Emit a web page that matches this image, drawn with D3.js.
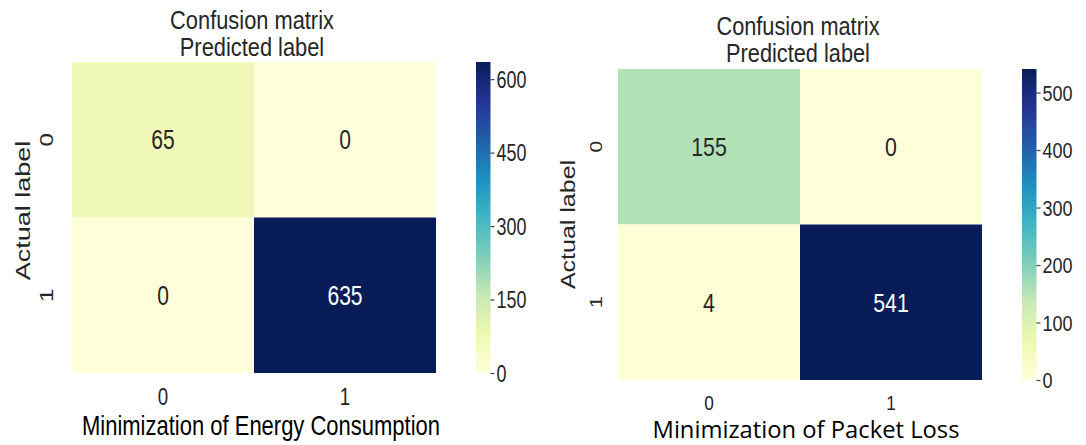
<!DOCTYPE html>
<html>
<head>
<meta charset="utf-8">
<script src="https://cdn.jsdelivr.net/npm/d3@7"></script>
<style>
  html, body { margin: 0; padding: 0; background: #fff; }
  svg { display: block; }
</style>
</head>
<body>
<svg id="chart" width="1086" height="445"></svg>
<script>
// Class labels shared by both confusion matrices
const classLabels = ["0", "1"];

// Confusion matrix counts: rows = actual label, columns = predicted label
const energyMatrix = [[65, 0], [0, 635]];
const packetMatrix = [[155, 0], [4, 541]];

// Colorbar tick values
const energyTicks = [0, 150, 300, 450, 600];
const packetTicks = [0, 100, 200, 300, 400, 500];

// Titles and axis captions
const titleLines = ["Confusion matrix", "Predicted label"];
const yCaption = "Actual label";
const energyCaption = "Minimization of Energy Consumption";
const packetCaption = "Minimization of Packet Loss";

const svg = d3.select("#chart");
const ylgnbu = d3.schemeYlGnBu[9];
const sansFont = "'Liberation Sans', Arial, sans-serif";

// Place a horizontally condensed text label
function label(g, x, y, txt, opt) {
  const sx = opt.sx ?? 0.78;
  const t = g.append("text")
    .attr("transform", `translate(${x},${y}) scale(${sx},1)` + (opt.rotate ? " rotate(-90)" : ""))
    .attr("text-anchor", opt.anchor || "middle")
    .attr("font-family", opt.font || sansFont)
    .attr("font-size", opt.size)
    .attr("fill", opt.fill || "#262626")
    .text(txt);
  if (opt.dy) t.attr("dy", opt.dy);
  return t;
}

function drawPanel(cfg) {
  const g = svg.append("g");
  const matrix = cfg.matrix;
  const vmax = d3.max(matrix.flat());
  const vmin = d3.min(matrix.flat());

  // Piecewise-linear YlGnBu colormap over the data range
  const color = d3.scaleLinear()
    .domain(d3.range(9).map(i => vmin + (vmax - vmin) * i / 8))
    .range(ylgnbu)
    .interpolate(d3.interpolateRgb);

  const x = d3.scaleBand().domain(classLabels).range([cfg.x0, cfg.x1]);
  const y = d3.scaleBand().domain(classLabels).range([cfg.y0, cfg.y1]);

  const cells = [];
  matrix.forEach((row, i) => row.forEach((v, j) => cells.push({ r: classLabels[i], c: classLabels[j], v })));

  g.selectAll("rect.cell").data(cells).enter().append("rect")
    .attr("class", "cell")
    .attr("x", d => x(d.c))
    .attr("y", d => y(d.r))
    .attr("width", x.bandwidth())
    .attr("height", y.bandwidth())
    .attr("fill", d => color(d.v));

  // Cell annotations
  cells.forEach(d => {
    const rgb = d3.rgb(color(d.v));
    const lum = (0.299 * rgb.r + 0.587 * rgb.g + 0.114 * rgb.b) / 255;
    label(g, x(d.c) + x.bandwidth() / 2, y(d.r) + y.bandwidth() / 2, String(d.v), {
      size: cfg.annotSize, sx: cfg.sx, dy: "0.36em",
      fill: lum < 0.5 ? "#ffffff" : "#262626"
    });
  });

  // Bottom axis (predicted label ticks)
  const xAxis = g.append("g")
    .attr("transform", `translate(0,${cfg.y1})`)
    .call(d3.axisBottom(x).tickSize(0).tickPadding(0));
  xAxis.select(".domain").remove();
  xAxis.selectAll("text").each(function () {
    d3.select(this)
      .attr("y", null).attr("dy", null)
      .attr("transform", `translate(0,${cfg.xTickY - cfg.y1}) scale(${cfg.sx},1)`)
      .attr("font-family", sansFont)
      .attr("font-size", cfg.tickSize)
      .attr("fill", "#262626");
  });

  // Left axis (actual label ticks, rotated)
  const yAxis = g.append("g")
    .attr("transform", `translate(${cfg.x0},0)`)
    .call(d3.axisLeft(y).tickSize(0).tickPadding(0));
  yAxis.select(".domain").remove();
  yAxis.selectAll("text").each(function () {
    d3.select(this)
      .attr("x", null).attr("dy", null)
      .attr("text-anchor", "middle")
      .attr("transform", `translate(${cfg.yTickX - cfg.x0},0) scale(${cfg.sx},1) rotate(-90)`)
      .attr("font-family", sansFont)
      .attr("font-size", cfg.tickSize)
      .attr("fill", "#262626");
  });

  // Titles
  label(g, cfg.titleX, cfg.titleY1, titleLines[0], { size: cfg.titleSize, sx: cfg.titleSx });
  label(g, cfg.titleX, cfg.titleY2, titleLines[1], { size: cfg.titleSize, sx: cfg.titleSx });

  // Y caption
  label(g, cfg.yCapX, (cfg.y0 + cfg.y1) / 2 + cfg.yCapShift, yCaption, { size: cfg.capSize, sx: cfg.sx, rotate: true });

  // X caption
  label(g, cfg.xCapX, cfg.xCapY, cfg.caption, { size: cfg.xCapSize, sx: 1, fill: "#000", font: cfg.xCapFont })
    .attr("textLength", cfg.xCapLen)
    .attr("lengthAdjust", "spacingAndGlyphs");

  // Colorbar
  const cb = d3.scaleLinear().domain([vmin, vmax]).range([cfg.y1, cfg.y0]);
  const gradId = "grad-" + cfg.id;
  const grad = svg.append("defs").append("linearGradient")
    .attr("id", gradId).attr("x1", 0).attr("y1", 1).attr("x2", 0).attr("y2", 0);
  ylgnbu.forEach((c, i) => grad.append("stop").attr("offset", i / 8).attr("stop-color", c));
  g.append("rect")
    .attr("x", cfg.cbX).attr("y", cfg.y0)
    .attr("width", cfg.cbW).attr("height", cfg.y1 - cfg.y0)
    .attr("fill", `url(#${gradId})`);

  const cbAxis = g.append("g")
    .attr("transform", `translate(${cfg.cbX + cfg.cbW},0)`)
    .call(d3.axisRight(cb).tickValues(cfg.ticks).tickSize(4).tickPadding(2));
  cbAxis.select(".domain").remove();
  cbAxis.selectAll("line").attr("stroke", "#444").attr("stroke-width", 1.2);
  cbAxis.selectAll("text").each(function () {
    d3.select(this)
      .attr("x", null)
      .attr("dy", "0.36em")
      .attr("text-anchor", "start")
      .attr("transform", `translate(6,0) scale(${cfg.sx},1)`)
      .attr("font-family", sansFont)
      .attr("font-size", cfg.cbTickSize)
      .attr("fill", "#262626");
  });
}

drawPanel({
  id: "energy", matrix: energyMatrix, ticks: energyTicks, caption: energyCaption,
  x0: 72, x1: 436, y0: 62, y1: 373, cbX: 476, cbW: 14.5,
  sx: 0.78, annotSize: 27, tickSize: 24, cbTickSize: 23, titleSize: 26, titleSx: 0.84, capSize: 27,
  titleX: 252, titleY1: 29, titleY2: 56,
  yCapX: 30, yCapShift: -7,
  yTickX: 53, xTickY: 405,
  xCapX: 261, xCapY: 435, xCapSize: 28, xCapLen: 358, xCapFont: sansFont
});

drawPanel({
  id: "packet", matrix: packetMatrix, ticks: packetTicks, caption: packetCaption,
  x0: 618, x1: 982, y0: 69, y1: 380, cbX: 1022, cbW: 14.5,
  sx: 0.82, annotSize: 26, tickSize: 21, cbTickSize: 22, titleSize: 25, titleSx: 0.87, capSize: 25,
  titleX: 798, titleY1: 35, titleY2: 62,
  yCapX: 575, yCapShift: 0,
  yTickX: 602, xTickY: 410,
  xCapX: 806, xCapY: 438, xCapSize: 23, xCapLen: 307, xCapFont: "'Open Sans', 'DejaVu Sans', sans-serif"
});
</script>
</body>
</html>
